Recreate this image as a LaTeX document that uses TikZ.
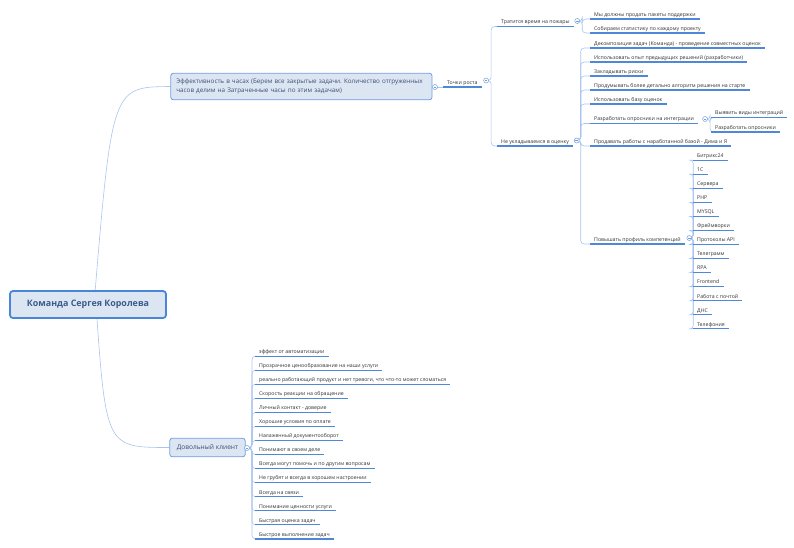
\documentclass[tikz,border=0pt]{standalone}
\usepackage{fontspec}
\setmainfont{Open Sans}
\usetikzlibrary{positioning, calc, backgrounds}
\definecolor{linkblue}{HTML}{A9C5EE}
\definecolor{lineblue}{HTML}{4F87D9}
\definecolor{boxfill}{HTML}{DCE6F3}
\definecolor{boxedge}{HTML}{6E9DE0}
\definecolor{rootedge}{HTML}{4A86D8}
\definecolor{roottext}{HTML}{3A5A8C}
\definecolor{topictext}{HTML}{3C4F72}
\definecolor{inktext}{HTML}{333333}
\frenchspacing

\begin{document}
\begin{tikzpicture}[
    x=1pt, y=-1pt,
    root/.style  ={draw=rootedge, line width=1.8pt, fill=boxfill, rounded corners=3pt,
                   minimum width=156pt, minimum height=27pt, text=roottext,
                   font=\fontsize{8.9}{10}\selectfont\bfseries},
    topic/.style ={draw=boxedge, line width=0.8pt, fill=boxfill, rounded corners=2.5pt,
                   anchor=west, inner xsep=7pt, inner ysep=3pt, text=topictext,
                   font=\fontsize{6.3}{8.6}\selectfont},
    uline/.style ={draw=lineblue, line width=1.1pt},
    leaf/.style  ={anchor=south west, inner xsep=4pt, inner ysep=1.5pt,
                   text height=3.9pt, text depth=1.1pt, text=inktext,
                   font=\fontsize{5.2}{6}\selectfont,
                   append after command={(\tikzlastnode.south west) edge[uline]
                                         (\tikzlastnode.south east)}},
    link/.style  ={draw=linkblue, line width=0.6pt},
    fork/.style  ={link, rounded corners=3.5pt},
    fold/.style  ={circle, draw=boxedge, line width=0.5pt, fill=white,
                   minimum size=5pt, inner sep=0pt,
                   path picture={\draw[boxedge, line width=0.5pt]
                     ([xshift=1.2pt]path picture bounding box.west) --
                     ([xshift=-1.2pt]path picture bounding box.east);}},
  ]
  \useasboundingbox (0,0) rectangle (794,547);

  % ---- central topic ----
  \node[root] (root) at (88,304.5) {Команда Сергея Королева};

  % ---- branch: efficiency ----
  \node[topic, text width=250pt, inner xsep=5.6pt, align=left, minimum height=26.5pt]
    (eff) at (170.4,86.5)
    {Эффективность в часах (Берем все закрытые задачи. Количество отгруженных\\
     часов делим на Затраченные часы по этим задачам)};
  \node[fold] (feff) at (435,87) {};
  \node[leaf] (grow) at (443,87) {Точки роста};
  \node[fold] (fgrow) at ($(grow.south east)+(4.5,-6.5)$) {};

  \node[leaf] (fire)  at (497,26.5) {Тратится время на пожары};
  \node[fold] (ffire) at ($(fire.south east)+(3.5,-5.5)$) {};
  \node[leaf] (fire1) at (590,19) {Мы должны продать пакеты поддержки};
  \node[leaf] (fire2) at (590,33) {Собираем статистику по каждому проекту};

  \node[leaf] (over)  at (497,146) {Не укладываемся в оценку};
  \node[fold] (fover) at ($(over.south east)+(3.5,-5.5)$) {};
  \node[leaf] (over1) at (590,48)  {Декомпозиция задач (Команда) - проведение совместных оценок};
  \node[leaf] (over2) at (590,62)  {Использовать опыт предыдущих решений (разработчики)};
  \node[leaf] (over3) at (590,76)  {Закладывать риски};
  \node[leaf] (over4) at (590,90)  {Продумывать более детально алгоритм решения на старте};
  \node[leaf] (over5) at (590,104) {Использовать базу оценок};
  \node[leaf] (over6) at (590,123.5) {Разработать опросники на интеграции};
  \node[fold] (fover6) at ($(over6.south east)+(7,-4.5)$) {};
  \node[leaf] (integ1) at (711,117.5) {Выявить виды интеграций};
  \node[leaf] (integ2) at (711,132)   {Разработать опросники};
  \node[leaf] (over7) at (590,146) {Продавать работы с наработанной базой - Дима и Я};
  \node[leaf] (over8) at (590,244) {Повышать профиль компетенций};
  \node[fold] (fover8) at ($(over8.south east)+(4.5,-6)$) {};

  % skills under over8
  \node[leaf] (sk1)  at (693,160.1) {Битрикс24};
  \node[leaf] (sk2)  at (693,174.2) {1С};
  \node[leaf] (sk3)  at (693,188.2) {Сервера};
  \node[leaf] (sk4)  at (693,202.3) {PHP};
  \node[leaf] (sk5)  at (693,216.4) {MYSQL};
  \node[leaf] (sk6)  at (693,230.4) {Фреймворки};
  \node[leaf] (sk7)  at (693,244.5) {Протоколы API};
  \node[leaf] (sk8)  at (693,258.6) {Телеграмм};
  \node[leaf] (sk9)  at (693,272.6) {RPA};
  \node[leaf] (sk10) at (693,286.7) {Frontend};
  \node[leaf] (sk11) at (693,300.8) {Работа с почтой};
  \node[leaf] (sk12) at (693,314.8) {ДНС};
  \node[leaf] (sk13) at (693,328.9) {Телефония};

  % ---- branch: happy client ----
  \node[topic, minimum height=18.5pt, font=\fontsize{6.6}{8}\selectfont] (client) at (169.4,447.5)
    {Довольный клиент};
  \node[fold] (fclient) at (247,448) {};
  \node[leaf] (cl1)  at (255,356.1) {эффект от автоматизации};
  \node[leaf] (cl2)  at (255,370.2) {Прозрачное ценообразование на наши услуги};
  \node[leaf] (cl3)  at (255,384.2) {реально работающий продукт и нет тревоги, что что-то может сломаться};
  \node[leaf] (cl4)  at (255,398.3) {Скорость реакции на обращение};
  \node[leaf] (cl5)  at (255,412.4) {Личный контакт - доверие};
  \node[leaf] (cl6)  at (255,426.4) {Хорошие условия по оплате};
  \node[leaf] (cl7)  at (255,440.5) {Налаженный документооборот};
  \node[leaf] (cl8)  at (255,454.6) {Понимают в своем деле};
  \node[leaf] (cl9)  at (255,468.6) {Всегда могут помочь и по другим вопросам};
  \node[leaf] (cl10) at (255,482.7) {Не грубят и всегда в хорошем настроении};
  \node[leaf] (cl11) at (255,496.8) {Всегда на связи};
  \node[leaf] (cl12) at (255,510.8) {Понимание ценности услуги};
  \node[leaf] (cl13) at (255,524.9) {Быстрая оценка задач};
  \node[leaf] (cl14) at (255,539.0) {Быстрое выполнение задач};

  % ---- connectors (behind everything) ----
  \begin{scope}[on background layer]
    \draw[link] ($(root.center)+(6,0)$) .. controls (112,87) .. (eff.west);
    \draw[link] ($(root.center)+(8,0)$) .. controls (106,447.5) .. (client.west);
    \draw[link] (feff.center) -- (grow.south west);

    \draw[fork] (fgrow.center) -- ++(5,0) |- (fire.south west);
    \draw[fork] (fgrow.center) -- ++(5,0) |- (over.south west);

    \draw[fork] (ffire.center) -- ++(5,0) |- (fire1.south west);
    \draw[fork] (ffire.center) -- ++(5,0) |- (fire2.south west);

    \draw[fork] (fover.center) -- ++(4,0) |- (over1.south west);
    \draw[fork] (fover.center) -- ++(4,0) |- (over2.south west);
    \draw[fork] (fover.center) -- ++(4,0) |- (over3.south west);
    \draw[fork] (fover.center) -- ++(4,0) |- (over4.south west);
    \draw[fork] (fover.center) -- ++(4,0) |- (over5.south west);
    \draw[fork] (fover.center) -- ++(4,0) |- (over6.south west);
    \draw[fork] (fover.center) -- ++(4,0) |- (over7.south west);
    \draw[fork] (fover.center) -- ++(4,0) |- (over8.south west);

    \draw[fork] (fover6.center) -- ++(5,0) |- (integ1.south west);
    \draw[fork] (fover6.center) -- ++(5,0) |- (integ2.south west);

    \draw[fork] (fover8.center) -- ++(4,0) |- (sk1.south west);
    \draw[fork] (fover8.center) -- ++(4,0) |- (sk2.south west);
    \draw[fork] (fover8.center) -- ++(4,0) |- (sk3.south west);
    \draw[fork] (fover8.center) -- ++(4,0) |- (sk4.south west);
    \draw[fork] (fover8.center) -- ++(4,0) |- (sk5.south west);
    \draw[fork] (fover8.center) -- ++(4,0) |- (sk6.south west);
    \draw[fork] (fover8.center) -- ++(4,0) |- (sk7.south west);
    \draw[fork] (fover8.center) -- ++(4,0) |- (sk8.south west);
    \draw[fork] (fover8.center) -- ++(4,0) |- (sk9.south west);
    \draw[fork] (fover8.center) -- ++(4,0) |- (sk10.south west);
    \draw[fork] (fover8.center) -- ++(4,0) |- (sk11.south west);
    \draw[fork] (fover8.center) -- ++(4,0) |- (sk12.south west);
    \draw[fork] (fover8.center) -- ++(4,0) |- (sk13.south west);

    \draw[fork] (fclient.center) -- ++(5,0) |- (cl1.south west);
    \draw[fork] (fclient.center) -- ++(5,0) |- (cl2.south west);
    \draw[fork] (fclient.center) -- ++(5,0) |- (cl3.south west);
    \draw[fork] (fclient.center) -- ++(5,0) |- (cl4.south west);
    \draw[fork] (fclient.center) -- ++(5,0) |- (cl5.south west);
    \draw[fork] (fclient.center) -- ++(5,0) |- (cl6.south west);
    \draw[fork] (fclient.center) -- ++(5,0) |- (cl7.south west);
    \draw[fork] (fclient.center) -- ++(5,0) |- (cl8.south west);
    \draw[fork] (fclient.center) -- ++(5,0) |- (cl9.south west);
    \draw[fork] (fclient.center) -- ++(5,0) |- (cl10.south west);
    \draw[fork] (fclient.center) -- ++(5,0) |- (cl11.south west);
    \draw[fork] (fclient.center) -- ++(5,0) |- (cl12.south west);
    \draw[fork] (fclient.center) -- ++(5,0) |- (cl13.south west);
    \draw[fork] (fclient.center) -- ++(5,0) |- (cl14.south west);
  \end{scope}

\end{tikzpicture}
\end{document}
